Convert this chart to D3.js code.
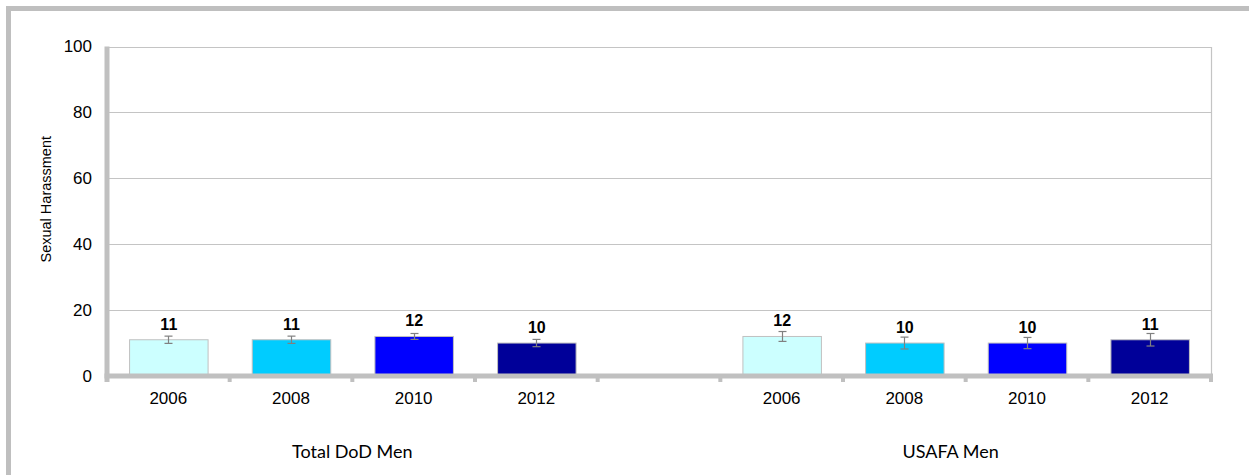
<!DOCTYPE html>
<html>
<head>
<meta charset="utf-8">
<script src="https://cdn.jsdelivr.net/npm/d3@7"></script>
<style>
  html, body { margin: 0; padding: 0; background: #fff; }
  svg { display: block; }
</style>
</head>
<body>
<svg id="chart" width="1249" height="475"></svg>
<script>
// Survey years and the two populations compared
const years = ["2006", "2008", "2010", "2012"];
const groups = ["Total DoD Men", "USAFA Men"];

// Percent experiencing sexual harassment, per group
const dodValues = [11, 11, 12, 10];
const usafaValues = [12, 10, 10, 11];

// Margin of error (± percentage points), per group
const dodErrors = [1.1, 1.1, 0.9, 1.1];
const usafaErrors = [1.5, 1.8, 1.7, 1.9];

// Y axis
const yTicks = [0, 20, 40, 60, 80, 100];
const yTitle = "Sexual Harassment";

const yearColors = ["#CCFFFF", "#00CCFF", "#0000FF", "#000099"];

// Flatten into slots: four years, one empty spacer, four years
const slots = [];
years.forEach((yr, i) => slots.push({ key: "g0-" + yr, year: yr, group: 0, i, value: dodValues[i], err: dodErrors[i] }));
slots.push({ key: "spacer", spacer: true });
years.forEach((yr, i) => slots.push({ key: "g1-" + yr, year: yr, group: 1, i, value: usafaValues[i], err: usafaErrors[i] }));

const svg = d3.select("#chart");
const plot = { left: 107, right: 1211, top: 46.5, bottom: 376 };

const x = d3.scaleBand()
  .domain(slots.map(d => d.key))
  .range([plot.left, plot.right])
  .paddingInner(0.36)
  .paddingOuter(0.18);

const xSlot = d3.scaleBand()
  .domain(slots.map(d => d.key))
  .range([plot.left, plot.right]);

const y = d3.scaleLinear().domain([0, 100]).range([plot.bottom, plot.top]);

// Outer chart frame (top and left edges)
svg.append("path")
  .attr("d", "M8.5,475 L8.5,8.5 L1249,8.5")
  .attr("fill", "none")
  .attr("stroke", "#bfbfbf")
  .attr("stroke-width", 5);

// Horizontal gridlines
svg.append("g")
  .selectAll("line")
  .data(yTicks.filter(t => t > 0))
  .join("line")
  .attr("x1", plot.left)
  .attr("x2", plot.right)
  .attr("y1", d => Math.round(y(d)) + 0.5)
  .attr("y2", d => Math.round(y(d)) + 0.5)
  .attr("stroke", "#c4c4c4")
  .attr("stroke-width", 1.2);

// Right edge of plot area
svg.append("line")
  .attr("x1", plot.right + 0.5).attr("x2", plot.right + 0.5)
  .attr("y1", Math.round(y(100))).attr("y2", plot.bottom)
  .attr("stroke", "#c4c4c4")
  .attr("stroke-width", 1.2);

// Bars
const bars = slots.filter(d => !d.spacer);
svg.append("g")
  .selectAll("rect")
  .data(bars)
  .join("rect")
  .attr("x", d => x(d.key) + 0.5)
  .attr("y", d => y(d.value))
  .attr("width", x.bandwidth())
  .attr("height", d => y(0) - y(d.value))
  .attr("fill", d => yearColors[d.i])
  .attr("stroke", "#c0c0c0")
  .attr("stroke-width", 1);

// Error bars
const eb = svg.append("g").attr("stroke", "#808080").attr("stroke-width", 1.2);
bars.forEach(d => {
  const cx = Math.round(x(d.key) + x.bandwidth() / 2) + 0.5;
  const y1 = y(d.value + d.err), y2 = y(d.value - d.err);
  eb.append("line").attr("x1", cx).attr("x2", cx).attr("y1", y1).attr("y2", y2);
  eb.append("line").attr("x1", cx - 4).attr("x2", cx + 4).attr("y1", y1).attr("y2", y1);
  eb.append("line").attr("x1", cx - 4).attr("x2", cx + 4).attr("y1", y2).attr("y2", y2);
});

// Value labels
svg.append("g")
  .selectAll("text")
  .data(bars)
  .join("text")
  .attr("x", d => x(d.key) + x.bandwidth() / 2 + 0.5)
  .attr("y", d => y(d.value) - 10)
  .attr("text-anchor", "middle")
  .attr("font-family", "Arial, 'Liberation Sans', sans-serif")
  .attr("font-weight", "bold")
  .attr("font-size", 16)
  .attr("fill", "#000")
  .text(d => d.value);

// Y axis
const yAxis = d3.axisLeft(y).tickValues(yTicks).tickSize(0).tickPadding(15);
const gy = svg.append("g")
  .attr("transform", `translate(${plot.left},0)`)
  .call(yAxis);
gy.select(".domain").remove();
gy.selectAll("text")
  .attr("font-family", "Arial, 'Liberation Sans', sans-serif")
  .attr("font-size", 17)
  .attr("fill", "#000");

svg.append("line")
  .attr("x1", plot.left).attr("x2", plot.left)
  .attr("y1", Math.round(y(100)) - 0.5).attr("y2", plot.bottom + 6)
  .attr("stroke", "#c0c0c0")
  .attr("stroke-width", 5);

// X axis line and slot-boundary ticks
svg.append("line")
  .attr("x1", plot.left - 2.5).attr("x2", plot.right + 2)
  .attr("y1", plot.bottom).attr("y2", plot.bottom)
  .attr("stroke", "#c0c0c0")
  .attr("stroke-width", 5);

svg.append("g")
  .selectAll("line")
  .data(slots.slice(1))
  .join("line")
  .attr("x1", d => xSlot(d.key))
  .attr("x2", d => xSlot(d.key))
  .attr("y1", plot.bottom)
  .attr("y2", plot.bottom + 6)
  .attr("stroke", "#c0c0c0")
  .attr("stroke-width", 4);

svg.append("line")
  .attr("x1", plot.right).attr("x2", plot.right)
  .attr("y1", plot.bottom).attr("y2", plot.bottom + 6)
  .attr("stroke", "#c0c0c0")
  .attr("stroke-width", 4);

// Year tick labels
svg.append("g")
  .selectAll("text")
  .data(bars)
  .join("text")
  .attr("x", d => x(d.key) + x.bandwidth() / 2)
  .attr("y", 404)
  .attr("text-anchor", "middle")
  .attr("font-family", "Arial, 'Liberation Sans', sans-serif")
  .attr("font-size", 17)
  .attr("fill", "#000")
  .text(d => d.year);

// Group labels centred under each block of four bars
const groupCenter = g => {
  const ks = bars.filter(d => d.group === g).map(d => d.key);
  return (xSlot(ks[0]) + xSlot(ks[ks.length - 1]) + xSlot.bandwidth()) / 2;
};
svg.append("g")
  .selectAll("text")
  .data(groups)
  .join("text")
  .attr("x", (d, g) => groupCenter(g) - (g === 1 ? 15 : 0))
  .attr("y", 458)
  .attr("text-anchor", "middle")
  .attr("font-family", "Lato, 'Open Sans', sans-serif")
  .attr("font-size", 18)
  .attr("fill", "#000")
  .text(d => d);

// Y axis title
svg.append("text")
  .attr("transform", `translate(51,${(plot.top + plot.bottom) / 2 - 12}) rotate(-90)`)
  .attr("text-anchor", "middle")
  .attr("font-family", "Arial, 'Liberation Sans', sans-serif")
  .attr("font-size", 14.5)
  .attr("fill", "#000")
  .text(yTitle);
</script>
</body>
</html>
